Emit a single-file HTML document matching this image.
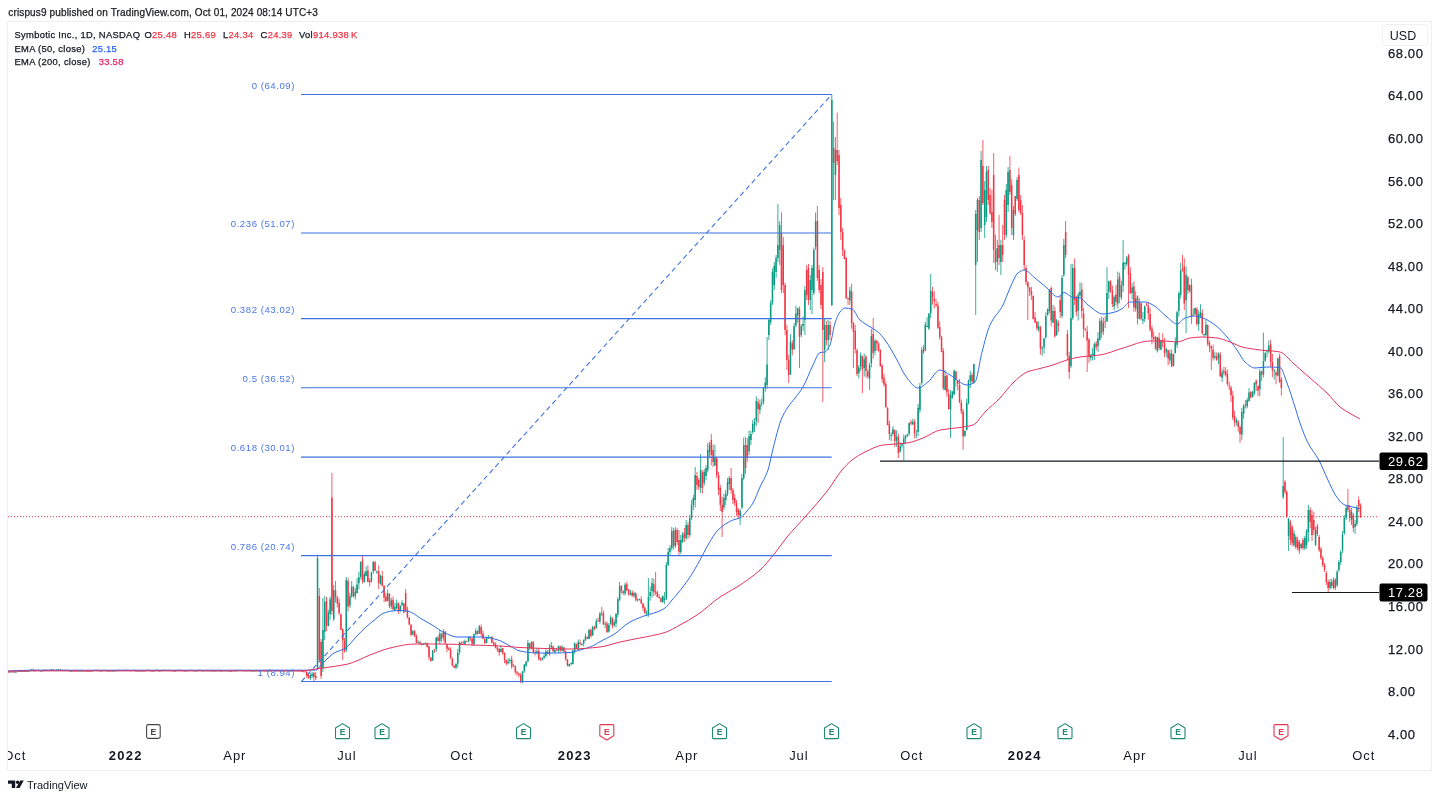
<!DOCTYPE html>
<html><head><meta charset="utf-8"><title>SYM chart</title>
<style>
html,body{margin:0;padding:0;background:#ffffff;}
body{width:1440px;height:799px;overflow:hidden;position:relative;font-family:"Liberation Sans",Arial,Helvetica,sans-serif;color:#131722;}
svg{position:absolute;left:0;top:0;filter:blur(0.35px);}
svg text{font-family:"Liberation Sans",Arial,Helvetica,sans-serif;paint-order:stroke;}
.tk text,text.tk{stroke:#131722;stroke-width:0.25px;}
.pub{position:absolute;left:8px;top:5px;font-size:11px;color:#1c1c1c;white-space:nowrap;}
</style></head><body>
<svg width="1440" height="799" viewBox="0 0 1440 799">
<!-- frame -->
<rect x="7.5" y="21.5" width="1424" height="749" fill="none" stroke="#eeeff1" stroke-width="1"/>
<!-- header -->
<text class="tk" x="8.3" y="16" font-size="10" letter-spacing="0.14" fill="#202020">crispus9 published on TradingView.com, Oct 01, 2024 08:14 UTC+3</text>
<!-- legend -->
<g class="tk" font-size="9.4" letter-spacing="0.3" fill="#131722">
<text x="14.5" y="37.8">Symbotic Inc., 1D, NASDAQ</text>
<text x="144.5" y="37.6">O<tspan fill="#f23645" stroke="#f23645">25.48</tspan></text>
<text x="184" y="37.6">H<tspan fill="#f23645" stroke="#f23645">25.69</tspan></text>
<text x="223" y="37.6">L<tspan fill="#f23645" stroke="#f23645">24.34</tspan></text>
<text x="260.6" y="37.6">C<tspan fill="#f23645" stroke="#f23645">24.39</tspan></text>
<text x="299" y="37.6">Vol<tspan fill="#f23645" stroke="#f23645">914.938</tspan><tspan fill="#f23645" stroke="#f23645" dx="2">K</tspan></text>
<text x="14.5" y="51.6">EMA (50, close)<tspan fill="#2962ff" stroke="#2962ff" dx="7">25.15</tspan></text>
<text x="14.5" y="65.4">EMA (200, close)<tspan fill="#e91e63" stroke="#e91e63" dx="8">33.58</tspan></text>
</g>
<!-- current price dotted line -->
<line x1="8" y1="516.7" x2="1378" y2="516.7" stroke="#f23645" stroke-width="1" stroke-dasharray="1 2"/>
<path d="M10 671.3V672.5M13.6 671.1V672.4M17.2 671V672.4M19 670.8V671.9M22.6 670.7V672M26.2 670.4V672M28 670.5V671.4M29.8 669.9V671.5M31.6 669.1V670.6M35.2 669.8V671.1M37 669.7V670.6M40.6 670.2V671.2M42.4 670.1V670.9M44.2 669.3V670.9M47.8 669.6V670.8M51.4 669.2V670.2M55 669.8V670.7M56.8 669.2V670.7M58.6 669.2V670.2M62.2 669.6V670.7M65.8 669.7V671M71.2 670.4V671.4M73 670.3V671.2M78.4 670.3V671.2M80.2 670V671M83.8 670.2V671.3M92.7 670V671.2M94.5 669.8V670.7M99.9 670.1V671.1M103.5 669.8V671.1M108.9 670.1V671.1M112.5 670.4V671.1M114.3 670.2V671.2M116.1 670V671M117.9 669.9V670.8M121.5 669.9V671M123.3 669.8V670.6M125.1 669.8V670.5M132.3 669.7V670.9M137.7 670.3V671M143.1 670.1V671.1M146.7 669.7V671M153.9 670.4V671.2M155.7 669.7V671M161.1 669.8V670.9M162.9 669.6V670.8M166.5 669.8V670.5M170.1 669.9V671M177.3 669.8V671.2M179.1 669.7V670.5M184.5 670.2V671M188 670V671M189.8 669.8V670.8M195.2 670.3V671.1M197 670.2V671.1M198.8 669.7V670.9M202.4 670V670.9M204.2 670V670.8M207.8 669.8V670.9M213.2 670.1V671M215 670.1V670.9M218.6 670.1V671.1M222.2 670.3V671.1M224 670V671.1M229.4 670.4V671.1M233 670V671.2M236.6 669.9V671.1M238.4 669.7V670.7M240.2 669.9V670.6M245.6 670V670.8M249.2 669.8V670.8M252.8 670.4V671.2M254.6 670.2V671.1M256.4 670V670.8M260 670.2V671.1M261.8 670.1V671M267.2 670.2V671.2M270.8 669.7V671.4M276.2 669.8V671.3M279.8 670V671.1M283.4 670.5V671.3M285.2 670V671.2M290.6 670.2V671.1M292.3 669.9V671M295.9 670V670.9M299.5 669.8V670.9M310.3 673V680M312.1 672V678M317.5 555.5V670M322.9 598V672M324.7 596V640M328.3 609.7V626.4M330.1 596.6V619.6M333.7 585V621M346.3 577V652M349.9 592.9V608M351.7 581.1V597.4M355.3 587.5V599.5M357.1 578.1V593.6M358.9 571.9V589.3M360.7 561.2V579M364.3 571.6V582.7M366.1 566.4V576.5M371.5 571.8V582.5M373.3 561.2V573.8M376.9 570.4V573.8M380.5 574.5V584.6M387.7 589.5V601.2M391.3 597.7V608.9M394.9 602.8V611M396.6 599.5V609.2M400.2 604.7V612.4M402 600.2V606.8M412.8 629.9V635.3M418.2 640.2V643.1M421.8 643.1V645M423.6 643.2V644.8M425.4 642.3V643.5M432.6 650.1V660.9M436.2 637.1V652.3M439.8 629.5V644.4M443.4 629.1V640.8M456 663.5V669.2M457.8 648.8V667.6M459.6 641.5V654.9M465 639.6V644.4M468.6 636.1V642.5M474 633.5V646.1M475.8 628.4V634.6M479.4 624.9V634M486.6 637.1V643.3M488.4 635.1V638.6M490.2 636.7V637.8M500.9 645.3V652.4M508.1 657.9V664.6M509.9 658.1V663.5M513.5 663.8V666.8M522.5 671.1V683.3M524.3 664V672.9M526.1 660.9V667.2M527.9 640V662M531.5 641.4V649.2M536.9 648.3V654.2M542.3 657.4V660.6M544.1 653.6V658.5M545.9 649.2V657.4M549.5 644.1V655.7M551.3 642V649.2M554.9 648.1V653M558.5 645.5V652.8M562.1 645.1V651.4M569.3 663.7V666.9M571.1 662.2V665.5M572.9 650V664.5M574.7 642.5V653.9M578.3 639.6V650M581.9 643.1V644.8M583.7 639.3V646.5M585.5 633.7V641.1M589.1 629.3V639.3M592.7 625.6V635.7M596.3 618.5V628.6M599.9 611.9V623.8M605.2 621.6V628.2M608.8 623.1V632.6M610.6 615.4V624.9M614.2 620.1V627M616 613.3V627.5M617.8 597.3V617.5M619.6 582V601.1M625 582.9V595.5M630.4 589.9V595.4M634 591.5V597.9M637.6 598.3V601.4M639.4 598.6V600.6M646.6 610.3V616.4M648.4 578V616.8M650.2 586.6V600.7M652 578.1V597.6M662.8 595.4V602.5M664.6 592V604M666.4 562V600M668.2 548V566M670 545V556M671.8 527V550M675.4 527V548M680.8 535V554M682.6 532V543M686.2 520V540M689.8 515V537M691.6 500V520M693.4 495V510M695.2 467V507.6M700.6 454V493M704.2 469V486M706 465V480M707.7 443V472.5M709.5 441.9V458M714.9 444.5V466M723.9 493.6V510M725.7 490V505M727.5 478V496M729.3 476V490M740.1 509V525M741.9 474V509M743.7 437.5V480M749.1 430.5V455M750.9 431V445M752.7 420V434M754.5 418V432M756.3 396.3V425.8M759.9 399.7V414.3M761.7 398.4V406.7M763.5 387.3V404.6M765.3 377.2V391.7M767.1 337V388.7M768.9 318V340M770.7 300V325M772.5 268.5V305M774.3 262V290M776.1 255V278M777.9 204V262M779.7 221V265M790.5 334.4V375M794.1 323.2V350M795.9 305.7V327.1M797.7 307.6V322.8M801.3 324.1V337.2M803.1 316.3V331M804.9 286V335M810.3 275V310M812 265V314M813.8 247.5V295M815.6 212.5V250M824.6 318V362M828.2 320V350M831.8 94.5V306M835.4 137V200M849.8 286.9V304.8M858.8 365V378.4M860.6 352.5V370.9M864.2 353.5V376.5M869.6 362.7V390M871.4 329V367.4M875 338.8V355.1M891.2 432.4V441.1M893 426.1V435.7M896.6 430.3V446.8M900.2 441.9V452.5M902 442.9V448.4M903.8 434.3V460.5M905.6 435V443.6M907.4 433.7V436.9M909.2 422.5V435.8M912.8 418.7V425.1M916.3 429.7V438.7M918.1 404V436M919.9 383V413M921.7 347V385M925.3 321.9V350.8M927.1 317.3V327.1M928.9 313.1V330M930.7 274V318.4M945.1 370.1V390.6M950.5 390.2V438M952.3 391.1V399.2M954.1 369.4V394.8M964.9 430.2V437.1M966.7 398.7V430.5M968.5 379.5V404.3M970.3 371V388M973.9 363.7V383.6M975.7 210V315M977.5 198V262M981.1 151V232M984.7 181V238M986.5 166V222M997.3 240V272M1000.9 240V275M1006.3 184V238M1008.1 167V212M1013.5 206V240M1017.1 177V201M1038.6 321.6V331.7M1042.2 346V356M1044 337.9V353.6M1045.8 312.4V338.8M1047.6 308.4V315.6M1049.4 289.1V313.3M1053 304.8V323.2M1056.6 318.9V335.8M1062 275V318M1063.8 239V277M1071 264V368M1072.8 264V320M1078.2 292.5V320.5M1080 282.3V297.3M1090.8 353.9V360.7M1092.6 348.2V360.4M1094.4 342.4V359.9M1098 332.2V352M1099.8 318.2V340.6M1103.4 317.6V335.1M1107 267V321.7M1108.8 280.6V299.1M1114.2 295.4V310.5M1117.8 271.6V308.6M1121.4 280.7V299.9M1123.1 240V291.9M1124.9 262.2V269.7M1126.7 255.9V266.4M1132.1 283.3V299.7M1135.7 291.3V311.8M1139.3 298.2V319.5M1142.9 312V324.1M1144.7 305.5V322M1157.3 336.8V352.5M1160.9 339.7V350.1M1166.3 347.9V356.9M1169.9 349.5V364M1173.5 353.6V366.4M1175.3 337.3V353.6M1177.1 310.6V347.9M1178.9 291.3V316.5M1180.7 262.9V298.5M1186.1 266.5V333M1189.7 284.4V292.5M1193.3 308.4V315.6M1195.1 307.4V314.8M1198.7 310.6V331M1200.5 304.2V317.9M1204.1 333.5V337.3M1205.9 319.9V335.7M1214.9 352.2V359.3M1218.5 352.5V364.1M1222.1 369.3V382M1236.4 417.8V425.5M1241.8 407.8V439.9M1243.6 404.2V418.8M1247.2 397.7V408.3M1249 388V401.7M1252.6 390.9V397.4M1254.4 382.4V395M1259.8 368.8V396.3M1263.4 332.5V377.5M1265.2 351.7V361.9M1267 349.5V357.5M1268.8 340.5V353.6M1274.2 368.7V379.5M1277.8 358V376.4M1283.2 437V499M1288.6 518V551M1294 530V547M1301.2 543V549M1304.8 536V550M1306.6 529V549M1308.4 505V542M1315.6 527V546M1330 579V590M1333.5 577.6V589M1337.1 570V587M1338.9 560V572M1340.7 550V565M1342.5 531V553M1344.3 515V535M1346.1 505.5V520M1351.5 508V525M1355.1 520V534M1356.9 505V526" stroke="#089981" stroke-width="0.8" fill="none"/>
<path d="M8.2 671.4V672.2M11.8 671.2V672.3M15.4 671.1V672.7M20.8 670.8V672M24.4 670.5V671.7M33.4 668.8V671.2M38.8 669.5V671M46 669.3V670.7M49.6 669.5V670.4M53.2 669.1V670.7M60.4 669.1V670.8M64 669.7V671M67.6 669.7V670.8M69.4 670V671.4M74.8 670.3V671.2M76.6 670.3V671.4M82 670.1V671.3M85.5 670.2V671.1M87.3 670.3V671.1M89.1 670.4V671.2M90.9 670.5V671.1M96.3 669.7V670.5M98.1 669.8V671M101.7 670.1V671.1M105.3 669.9V671.2M107.1 670.3V671.2M110.7 670.3V671.1M119.7 669.8V671.1M126.9 669.6V670.5M128.7 669.8V670.6M130.5 670V670.8M134.1 669.8V670.9M135.9 670.2V671M139.5 670.2V671.1M141.3 670.2V671.1M144.9 670.2V670.9M148.5 669.8V670.9M150.3 670.1V671.1M152.1 670.3V671.2M157.5 669.6V670.9M159.3 670.2V670.9M164.7 669.8V670.5M168.3 669.8V671.1M171.9 669.9V671M173.7 670.2V671M175.5 670.4V671.3M180.9 669.6V670.7M182.7 669.9V671.1M186.3 670V671M191.6 669.8V670.7M193.4 669.9V671.2M200.6 669.7V670.9M206 670.1V671M209.6 669.9V670.9M211.4 670.1V671.1M216.8 670V671.2M220.4 670.1V671.2M225.8 670V670.8M227.6 670.1V671.1M231.2 670.4V671.1M234.8 670.1V671.1M242 669.9V670.8M243.8 670.1V671M247.4 670V670.8M251 669.9V671.3M258.2 669.9V671.2M263.6 669.9V670.8M265.4 670.1V671.2M269 670.4V671.2M272.6 669.8V671M274.4 670.3V671.3M278 669.9V671.1M281.6 669.8V671.3M287 669.9V670.7M288.8 669.9V671M294.1 669.9V670.9M297.7 670.1V670.9M301.3 669.8V672M303.1 670.9V671.9M304.9 671.1V672.2M306.7 671V678M308.5 673V679M313.9 672V681M315.7 672V680M319.3 588V662M321.1 639V679M326.5 597V631.2M331.9 473V615M335.5 581V602.6M337.3 595.8V607.5M339.1 598.6V615.1M340.9 613.3V630.2M342.7 628.5V660M344.5 637.9V652.6M348.1 577.8V611.5M353.5 585.5V597.4M362.5 555V583.5M367.9 565.3V582.1M369.7 578V586.6M375.1 560.8V571.1M378.7 565.4V589.1M382.3 570.8V586.5M384.1 585.3V602.2M385.9 593V601.7M389.5 593.4V608.3M393.1 596.5V610.5M398.4 602V613.9M403.8 602.7V613.3M405.6 589V612M407.4 606.6V618.5M409.2 617V624.8M411 624.1V636.4M414.6 630.1V636.9M416.4 634.2V643.3M420 640.7V644.6M427.2 642.6V647.5M429 645.7V659.8M430.8 657.1V661.7M434.4 649.1V652.9M438 635.3V641.4M441.6 633.2V642.2M445.2 631V643.8M447 643.8V652.2M448.8 646.9V650.3M450.6 647.3V659.2M452.4 657.6V666.4M454.2 665.3V668M461.4 641.5V643.6M463.2 640.6V643.8M466.8 640.8V641.9M470.4 636.8V641.3M472.2 637.7V646.1M477.6 630.1V634.8M481.2 624.4V636.3M483 630.7V639.2M484.8 637.7V644.1M492 636V643.3M493.8 641.5V645.6M495.6 642.3V648.5M497.4 646.4V652.1M499.2 648.4V655.9M502.7 647.9V654.9M504.5 652.4V663.2M506.3 659.6V665.4M511.7 655.8V668.9M515.3 665.2V674.4M517.1 671V675.8M518.9 672.6V677.4M520.7 672.8V683.2M529.7 642.6V650.3M533.3 641.2V653.4M535.1 649.9V655.5M538.7 648.2V660.5M540.5 657.1V660.6M547.7 650.1V654.6M553.1 645.5V652.4M556.7 647.7V651.1M560.3 645.8V651.9M563.9 646.6V652.1M565.7 650.4V660.8M567.5 659.1V666.4M576.5 643.4V649.2M580.1 639.5V645.9M587.3 636.2V639.2M590.9 628.3V637.8M594.5 625.5V630.2M598.1 617.7V621.9M601.7 607V616M603.4 610.4V624.9M607 621.3V633.2M612.4 617.1V628.6M621.4 585.4V593.5M623.2 590.3V595.2M626.8 581.7V591.3M628.6 589.2V595.8M632.2 590.3V596.9M635.8 592.4V601.7M641.2 596.3V604.2M643 603V610.9M644.8 606.4V613.6M653.8 578.5V596.1M655.6 572V595.1M657.4 590.7V597.3M659.2 594.1V598.6M661 597V602.3M673.6 528V549.6M677.2 528V545M679 530V555M684.4 528V542M688 522V539M697 472V490M698.8 478V490M702.4 470V493.6M711.3 434V465.5M713.1 444.5V467M716.7 457V478M718.5 472V495M720.3 485V511M722.1 497V537M731.1 468V493.6M732.9 488V504M734.7 494V506M736.5 500V516M738.3 508V518M745.5 437V474M747.3 438V462M758.1 398.6V423M781.5 212.5V293M783.3 237V293M785.1 282.6V335M786.9 325V370M788.7 355V383M792.3 340.3V355.4M799.5 306.5V368M806.7 265V300M808.5 264V305M817.4 206V281M819.2 265V293M821 279V309M822.8 267V402M826.4 321V345M830 321V340M833.6 121.6V200M837.2 112.7V165M839 150V215M840.8 198V240M842.6 228V256M844.4 249.5V259.4M846.2 257.1V298.8M848 297.6V305.2M851.6 283.6V328.7M853.4 321.9V368M855.2 324.7V353.6M857 348.6V375.9M862.4 355.8V393M866 355V377.7M867.8 369.3V378.7M873.2 318V358.6M876.8 340V350.5M878.6 341.9V351.5M880.4 349.3V366.9M882.2 364.4V382.7M884 373.8V386.8M885.8 381.6V407.9M887.6 406.8V425.3M889.4 420.7V440M894.8 429.6V447M898.4 433.7V458M911 419.9V425.4M914.6 419.2V438.2M923.5 345V353.6M932.5 286.8V304.6M934.3 291.1V308.5M936.1 299.3V307M937.9 301.9V329M939.7 321.6V339.6M941.5 335.9V352.3M943.3 348.2V390.1M946.9 374.6V396.6M948.7 389.1V409.5M955.9 370.7V386.7M957.7 380.1V390.4M959.5 378.9V403.3M961.3 399.6V414.1M963.1 409V450M972.1 372.6V383.4M979.3 196V240M982.9 140V205M988.3 166V205M990.1 188V215M991.9 190V228M993.7 153V263M995.5 235V270M999.1 215V265M1002.7 225V262M1004.5 195V240M1009.9 156V195M1011.7 179V235M1015.3 196V216M1018.9 167.5V212.5M1020.6 195V215M1022.4 205V240M1024.2 236V270M1026 265V285M1027.8 281.2V320M1029.6 287V296.1M1031.4 286.8V299.9M1033.2 295.2V319.3M1035 311.8V322.9M1036.8 321.1V330.6M1040.4 325.6V354.7M1051.2 286.4V326.2M1054.8 306.5V337.8M1058.4 320.4V332.2M1060.2 296V318M1065.6 221V258M1067.4 330V360M1069.2 352V379M1074.6 258.5V305M1076.4 296V316M1081.8 282.9V318.4M1083.6 307.8V337.7M1085.4 328.1V330.8M1087.2 325.8V372M1089 338V362.9M1096.2 341V350.5M1101.6 316.7V337.8M1105.2 316.1V328M1110.6 279.9V293M1112.4 285.5V307.2M1116 284.8V305.6M1119.6 272.7V303.4M1128.5 253.9V308M1130.3 267.3V294.1M1133.9 281.3V311.7M1137.5 295.4V324.4M1141.1 302.4V320.2M1146.5 303V305.6M1148.3 302.3V319.8M1150.1 308.2V331.7M1151.9 325.6V344.4M1153.7 331.7V340.7M1155.5 335.8V349.8M1159.1 332.6V350.2M1162.7 333.2V347.4M1164.5 337.9V357.3M1168.1 349.9V365.4M1171.7 349.4V367.1M1182.5 255V271.7M1184.3 258.4V309.9M1187.9 275.9V294M1191.5 278.8V323.9M1196.9 307.1V326M1202.3 309.3V334.7M1207.7 324.5V346.2M1209.5 340.6V352.1M1211.3 345.6V370M1213.1 344.6V360.7M1216.7 352.4V360.9M1220.3 351.9V376.8M1223.9 366.8V375.6M1225.7 367.2V376.7M1227.4 369.6V385.9M1229.2 381.7V390.3M1231 385.7V402M1232.8 391V420.1M1234.6 410.7V426.8M1238.2 420.2V431.6M1240 425.7V443M1245.4 400V408.5M1250.8 391.2V398.4M1256.2 379.4V390.9M1258 385.3V396.1M1261.6 370.7V381.1M1270.6 339.9V366.7M1272.4 354V377.1M1276 370.7V384.3M1279.6 353.8V382.8M1281.4 377.4V395.6M1285 480V494M1286.8 490V518M1290.4 520V545M1292.2 525V546M1295.8 535V549M1297.6 537V550M1299.4 540V554M1303 538V550M1310.2 507V528M1312 510V541M1313.8 512V535M1317.4 524V536M1319.2 535V552M1321 547V560M1322.8 556V567M1324.6 563V572M1326.4 571V585M1328.2 580V592.6M1331.7 579V588M1335.3 578V590M1347.9 489V512M1349.7 505V522M1353.3 513V532M1358.7 496.5V512M1360.5 503.4V517.8" stroke="#f23645" stroke-width="0.8" fill="none"/>
<path d="M9.3 671.6h1.5v0.9h-1.5zM12.9 671.5h1.5v0.9h-1.5zM16.5 671.4h1.5v0.9h-1.5zM18.3 671.2h1.5v0.9h-1.5zM21.9 671.1h1.5v0.9h-1.5zM25.5 670.9h1.5v0.9h-1.5zM27.3 670.8h1.5v0.9h-1.5zM29.1 670.3h1.5v0.9h-1.5zM30.9 669.5h1.5v0.9h-1.5zM34.4 670.3h1.5v0.9h-1.5zM36.2 670.1h1.5v0.9h-1.5zM39.8 670.5h1.5v0.9h-1.5zM41.6 670.5h1.5v0.9h-1.5zM43.4 669.7h1.5v0.9h-1.5zM47 669.9h1.5v0.9h-1.5zM50.6 669.5h1.5v0.9h-1.5zM54.2 670.2h1.5v0.9h-1.5zM56 669.7h1.5v0.9h-1.5zM57.8 669.5h1.5v0.9h-1.5zM61.4 670.1h1.5v0.9h-1.5zM65 670.2h1.5v0.9h-1.5zM70.4 670.8h1.5v0.9h-1.5zM72.2 670.6h1.5v0.9h-1.5zM77.6 670.6h1.5v0.9h-1.5zM79.4 670.5h1.5v0.9h-1.5zM83 670.5h1.5v0.9h-1.5zM92 670.3h1.5v0.9h-1.5zM93.8 670.2h1.5v0.9h-1.5zM99.2 670.5h1.5v0.9h-1.5zM102.8 670.2h1.5v0.9h-1.5zM108.2 670.6h1.5v0.9h-1.5zM111.8 670.7h1.5v0.9h-1.5zM113.6 670.6h1.5v0.9h-1.5zM115.4 670.4h1.5v0.9h-1.5zM117.2 670.2h1.5v0.9h-1.5zM120.8 670.2h1.5v0.9h-1.5zM122.6 670.2h1.5v0.9h-1.5zM124.4 670.1h1.5v0.9h-1.5zM131.6 670.1h1.5v0.9h-1.5zM136.9 670.6h1.5v0.9h-1.5zM142.3 670.5h1.5v0.9h-1.5zM145.9 670.1h1.5v0.9h-1.5zM153.1 670.7h1.5v0.9h-1.5zM154.9 670.1h1.5v0.9h-1.5zM160.3 670.3h1.5v0.9h-1.5zM162.1 670.1h1.5v0.9h-1.5zM165.7 670.1h1.5v0.9h-1.5zM169.3 670.2h1.5v0.9h-1.5zM176.5 670.2h1.5v0.9h-1.5zM178.3 670.1h1.5v0.9h-1.5zM183.7 670.6h1.5v0.9h-1.5zM187.3 670.3h1.5v0.9h-1.5zM189.1 670.1h1.5v0.9h-1.5zM194.5 670.7h1.5v0.9h-1.5zM196.3 670.5h1.5v0.9h-1.5zM198.1 670.1h1.5v0.9h-1.5zM201.7 670.5h1.5v0.9h-1.5zM203.5 670.4h1.5v0.9h-1.5zM207.1 670.3h1.5v0.9h-1.5zM212.5 670.5h1.5v0.9h-1.5zM214.3 670.5h1.5v0.9h-1.5zM217.9 670.4h1.5v0.9h-1.5zM221.5 670.6h1.5v0.9h-1.5zM223.3 670.3h1.5v0.9h-1.5zM228.7 670.8h1.5v0.9h-1.5zM232.3 670.4h1.5v0.9h-1.5zM235.9 670.3h1.5v0.9h-1.5zM237.7 670.2h1.5v0.9h-1.5zM239.4 670.2h1.5v0.9h-1.5zM244.8 670.4h1.5v0.9h-1.5zM248.4 670.3h1.5v0.9h-1.5zM252 670.7h1.5v0.9h-1.5zM253.8 670.5h1.5v0.9h-1.5zM255.6 670.3h1.5v0.9h-1.5zM259.2 670.5h1.5v0.9h-1.5zM261 670.4h1.5v0.9h-1.5zM266.4 670.7h1.5v0.9h-1.5zM270 670.2h1.5v0.9h-1.5zM275.4 670.2h1.5v0.9h-1.5zM279 670.3h1.5v0.9h-1.5zM282.6 670.8h1.5v0.9h-1.5zM284.4 670.4h1.5v0.9h-1.5zM289.8 670.6h1.5v0.9h-1.5zM291.6 670.3h1.5v0.9h-1.5zM295.2 670.4h1.5v0.9h-1.5zM298.8 670.3h1.5v0.9h-1.5zM309.6 675h1.5v3h-1.5zM311.4 674h1.5v2h-1.5zM316.8 558h1.5v110h-1.5zM322.2 630h1.5v38h-1.5zM324 602h1.5v30h-1.5zM327.6 612.4h1.5v13.6h-1.5zM329.4 599.3h1.5v14.8h-1.5zM333 590h1.5v29h-1.5zM345.5 580h1.5v70h-1.5zM349.1 596.3h1.5v9.1h-1.5zM350.9 586.6h1.5v10.2h-1.5zM354.5 591.8h1.5v4.5h-1.5zM356.3 584.6h1.5v8.5h-1.5zM358.1 577.3h1.5v6h-1.5zM359.9 562h1.5v14.7h-1.5zM363.5 573.9h1.5v8.2h-1.5zM365.3 571.3h1.5v4.6h-1.5zM370.7 572.5h1.5v8.7h-1.5zM372.5 561.8h1.5v9.5h-1.5zM376.1 571.6h1.5v0.9h-1.5zM379.7 575.6h1.5v8.3h-1.5zM386.9 593.5h1.5v7.4h-1.5zM390.5 600.5h1.5v5.9h-1.5zM394.1 607h1.5v3.1h-1.5zM395.9 603.4h1.5v4.7h-1.5zM399.5 605.9h1.5v5.1h-1.5zM401.3 602.8h1.5v2.2h-1.5zM412.1 631.2h1.5v3.5h-1.5zM417.5 642h1.5v0.9h-1.5zM421.1 644.3h1.5v0.9h-1.5zM422.9 643.5h1.5v0.9h-1.5zM424.7 643h1.5v0.9h-1.5zM431.9 650.4h1.5v10.1h-1.5zM435.5 637.5h1.5v11.7h-1.5zM439.1 633.5h1.5v7.6h-1.5zM442.7 631.7h1.5v5.9h-1.5zM455.2 663.8h1.5v4h-1.5zM457 652.7h1.5v10.9h-1.5zM458.8 642.6h1.5v9.4h-1.5zM464.2 640.9h1.5v3.1h-1.5zM467.8 637h1.5v4.3h-1.5zM473.2 634.2h1.5v10.1h-1.5zM475 631h1.5v3.4h-1.5zM478.6 626.4h1.5v7.2h-1.5zM485.8 637.8h1.5v5.1h-1.5zM487.6 637.6h1.5v0.9h-1.5zM489.4 637.1h1.5v0.9h-1.5zM500.2 649h1.5v3.1h-1.5zM507.4 661.4h1.5v1.9h-1.5zM509.2 660.1h1.5v0.9h-1.5zM512.8 666.2h1.5v0.9h-1.5zM521.8 671.4h1.5v10.7h-1.5zM523.6 664.8h1.5v6.4h-1.5zM525.4 661.8h1.5v3.8h-1.5zM527.2 643.1h1.5v18.5h-1.5zM530.8 641.7h1.5v7h-1.5zM536.2 651.3h1.5v1.7h-1.5zM541.6 658h1.5v1.8h-1.5zM543.4 656.2h1.5v2h-1.5zM545.2 651.5h1.5v4.4h-1.5zM548.8 647.4h1.5v6.3h-1.5zM550.6 645.5h1.5v1.7h-1.5zM554.1 649.9h1.5v2h-1.5zM557.7 646.1h1.5v4.7h-1.5zM561.3 647.1h1.5v3.7h-1.5zM568.5 664h1.5v2h-1.5zM570.3 662.9h1.5v0.9h-1.5zM572.1 650.4h1.5v13.5h-1.5zM573.9 643.3h1.5v7.5h-1.5zM577.5 641.9h1.5v7.8h-1.5zM581.1 644h1.5v0.9h-1.5zM582.9 640.3h1.5v3.1h-1.5zM584.7 636.4h1.5v3.9h-1.5zM588.3 629.8h1.5v9.2h-1.5zM591.9 626.9h1.5v8.5h-1.5zM595.5 621.3h1.5v6.9h-1.5zM599.1 613.6h1.5v7.9h-1.5zM604.5 623.6h1.5v0.9h-1.5zM608.1 624.9h1.5v6.7h-1.5zM609.9 617.4h1.5v6.3h-1.5zM613.5 622.3h1.5v3h-1.5zM615.3 613.9h1.5v9.6h-1.5zM617.1 599.3h1.5v15.1h-1.5zM618.9 586.3h1.5v13.4h-1.5zM624.3 584.8h1.5v8.7h-1.5zM629.7 593.1h1.5v1.9h-1.5zM633.3 593.1h1.5v2.6h-1.5zM636.9 599.5h1.5v0.9h-1.5zM638.7 599.2h1.5v0.9h-1.5zM645.9 612.7h1.5v0.9h-1.5zM647.7 596.9h1.5v16.8h-1.5zM649.5 591.9h1.5v4.2h-1.5zM651.3 583h1.5v8.1h-1.5zM662 596h1.5v6.2h-1.5zM663.8 598h1.5v2h-1.5zM665.6 565h1.5v33h-1.5zM667.4 552h1.5v13h-1.5zM669.2 548h1.5v4h-1.5zM671 531h1.5v17h-1.5zM674.6 530h1.5v16h-1.5zM680 540h1.5v12h-1.5zM681.8 535h1.5v7h-1.5zM685.4 525h1.5v13h-1.5zM689 518h1.5v17h-1.5zM690.8 505h1.5v13h-1.5zM692.6 498h1.5v7h-1.5zM694.4 475h1.5v25h-1.5zM699.8 470h1.5v18h-1.5zM703.4 472h1.5v11h-1.5zM705.2 468h1.5v8h-1.5zM707 450h1.5v20h-1.5zM708.8 445h1.5v7h-1.5zM714.2 457h1.5v8.5h-1.5zM723.2 498h1.5v9.6h-1.5zM725 494h1.5v6h-1.5zM726.8 482h1.5v12h-1.5zM728.6 478h1.5v6h-1.5zM739.4 511h1.5v5h-1.5zM741.2 478h1.5v29.6h-1.5zM743 445h1.5v33h-1.5zM748.4 436h1.5v15.5h-1.5zM750.2 434h1.5v6h-1.5zM752 424h1.5v8h-1.5zM753.8 422h1.5v3h-1.5zM755.6 400.9h1.5v20.1h-1.5zM759.1 404.6h1.5v5.3h-1.5zM760.9 402.7h1.5v1h-1.5zM762.7 388h1.5v14h-1.5zM764.5 382.5h1.5v5.2h-1.5zM766.3 364.5h1.5v20.6h-1.5zM768.1 320h1.5v15h-1.5zM769.9 303h1.5v19h-1.5zM771.7 272h1.5v31h-1.5zM773.5 266h1.5v19h-1.5zM775.3 258h1.5v14h-1.5zM777.1 245h1.5v13h-1.5zM778.9 225h1.5v25h-1.5zM789.7 341.6h1.5v32.9h-1.5zM793.3 326.2h1.5v22.9h-1.5zM795.1 313.4h1.5v12h-1.5zM796.9 308.2h1.5v7.1h-1.5zM800.5 325.9h1.5v9h-1.5zM802.3 324h1.5v2.1h-1.5zM804.1 290h1.5v30h-1.5zM809.5 280h1.5v20h-1.5zM811.3 268h1.5v22h-1.5zM813.1 250h1.5v43h-1.5zM814.9 221h1.5v26h-1.5zM823.9 325h1.5v25h-1.5zM827.5 325h1.5v15h-1.5zM831.1 100h1.5v205h-1.5zM834.7 150h1.5v25h-1.5zM849.1 290.6h1.5v9.9h-1.5zM858.1 367.4h1.5v5.6h-1.5zM859.9 355.3h1.5v11.1h-1.5zM863.4 359.3h1.5v8.7h-1.5zM868.8 364.8h1.5v13.6h-1.5zM870.6 335.9h1.5v27.2h-1.5zM874.2 341h1.5v9.9h-1.5zM890.4 435h1.5v0.9h-1.5zM892.2 428.9h1.5v5.1h-1.5zM895.8 436.3h1.5v4.5h-1.5zM899.4 446h1.5v5.5h-1.5zM901.2 444h1.5v1.4h-1.5zM903 438.4h1.5v4.9h-1.5zM904.8 435.9h1.5v2.7h-1.5zM906.6 434.4h1.5v1.5h-1.5zM908.4 422.9h1.5v10.8h-1.5zM912 421.7h1.5v2.5h-1.5zM915.6 434.7h1.5v0.9h-1.5zM917.4 408h1.5v24h-1.5zM919.2 386h1.5v24h-1.5zM921 350h1.5v33h-1.5zM924.6 324.4h1.5v26.1h-1.5zM926.4 326.1h1.5v0.9h-1.5zM928.2 313.4h1.5v15.2h-1.5zM930 290.8h1.5v22.4h-1.5zM944.4 375.9h1.5v14h-1.5zM949.8 395.7h1.5v13.6h-1.5zM951.6 391.4h1.5v6.1h-1.5zM953.4 370.8h1.5v23.6h-1.5zM964.2 430.9h1.5v4.9h-1.5zM966 403.1h1.5v26.9h-1.5zM967.7 380.9h1.5v22.3h-1.5zM969.5 375.3h1.5v5.6h-1.5zM973.1 364.1h1.5v18.7h-1.5zM974.9 214h1.5v51h-1.5zM976.7 200h1.5v30h-1.5zM980.3 160h1.5v68h-1.5zM983.9 190h1.5v35h-1.5zM985.7 172h1.5v45h-1.5zM996.5 248h1.5v14h-1.5zM1000.1 245h1.5v17h-1.5zM1005.5 190h1.5v45h-1.5zM1007.3 172h1.5v33h-1.5zM1012.7 210h1.5v25h-1.5zM1016.3 180h1.5v19h-1.5zM1037.9 325.9h1.5v3.9h-1.5zM1041.5 347.9h1.5v1.2h-1.5zM1043.3 338.4h1.5v8.8h-1.5zM1045.1 315.9h1.5v21.3h-1.5zM1046.9 309.3h1.5v6h-1.5zM1048.7 290h1.5v21.1h-1.5zM1052.3 310.9h1.5v11.6h-1.5zM1055.9 320.6h1.5v14.3h-1.5zM1061.3 278h1.5v38h-1.5zM1063.1 245h1.5v30h-1.5zM1070.2 318h1.5v48h-1.5zM1072 268h1.5v50h-1.5zM1077.4 294.9h1.5v15.8h-1.5zM1079.2 291.8h1.5v3.6h-1.5zM1090 355.6h1.5v2.4h-1.5zM1091.8 353.8h1.5v1.2h-1.5zM1093.6 344.3h1.5v11.1h-1.5zM1097.2 338.4h1.5v7.6h-1.5zM1099 320.9h1.5v19.1h-1.5zM1102.6 322.4h1.5v9h-1.5zM1106.2 293.1h1.5v28.3h-1.5zM1108 281.3h1.5v10.8h-1.5zM1113.4 297.1h1.5v9.5h-1.5zM1117 279.3h1.5v24.1h-1.5zM1120.6 285.3h1.5v12.1h-1.5zM1122.4 262.4h1.5v23.2h-1.5zM1124.2 262.6h1.5v1.7h-1.5zM1126 257.5h1.5v6.3h-1.5zM1131.4 287.5h1.5v5.6h-1.5zM1135 298.2h1.5v10.6h-1.5zM1138.6 301.9h1.5v16.8h-1.5zM1142.2 319.2h1.5v1.5h-1.5zM1144 306.4h1.5v12.6h-1.5zM1156.6 337.1h1.5v13.9h-1.5zM1160.2 340.4h1.5v9.4h-1.5zM1165.6 348.9h1.5v2.5h-1.5zM1169.2 353.2h1.5v7.4h-1.5zM1172.8 354.1h1.5v11.7h-1.5zM1174.5 342.6h1.5v10.4h-1.5zM1176.3 312.2h1.5v32.6h-1.5zM1178.1 293.6h1.5v17.4h-1.5zM1179.9 270.6h1.5v24.5h-1.5zM1185.3 274.7h1.5v25.5h-1.5zM1188.9 285h1.5v6.3h-1.5zM1192.5 314.5h1.5v0.9h-1.5zM1194.3 308h1.5v6.2h-1.5zM1197.9 314.2h1.5v9.7h-1.5zM1199.7 311.9h1.5v4.1h-1.5zM1203.3 334.1h1.5v0.9h-1.5zM1205.1 324.4h1.5v10.9h-1.5zM1214.1 356.3h1.5v1.5h-1.5zM1217.7 353.3h1.5v4.8h-1.5zM1221.3 372.3h1.5v5.5h-1.5zM1235.7 420.2h1.5v1.7h-1.5zM1241.1 412.1h1.5v22.5h-1.5zM1242.9 405.4h1.5v8.1h-1.5zM1246.5 400h1.5v6.3h-1.5zM1248.3 392.6h1.5v8.5h-1.5zM1251.9 391.8h1.5v5.2h-1.5zM1253.7 382.7h1.5v10h-1.5zM1259.1 371.6h1.5v17.7h-1.5zM1262.7 360.9h1.5v13.8h-1.5zM1264.5 353.3h1.5v7.5h-1.5zM1266.3 350.6h1.5v1h-1.5zM1268.1 345.4h1.5v6.1h-1.5zM1273.5 370.3h1.5v1h-1.5zM1277.1 358.6h1.5v16.8h-1.5zM1282.4 486h1.5v11h-1.5zM1287.8 519h1.5v17h-1.5zM1293.2 533h1.5v12h-1.5zM1300.4 544h1.5v4h-1.5zM1304 538h1.5v10h-1.5zM1305.8 531h1.5v14h-1.5zM1307.6 510h1.5v22h-1.5zM1314.8 530h1.5v15h-1.5zM1329.2 582h1.5v6h-1.5zM1332.8 580h1.5v8h-1.5zM1336.4 572h1.5v13h-1.5zM1338.2 562h1.5v8h-1.5zM1340 552h1.5v10h-1.5zM1341.8 535h1.5v15h-1.5zM1343.6 518h1.5v15h-1.5zM1345.4 508h1.5v10h-1.5zM1350.8 512h1.5v8h-1.5zM1354.4 524h1.5v3h-1.5zM1356.2 508h1.5v16h-1.5z" fill="#089981"/>
<path d="M7.5 671.9h1.5v0.9h-1.5zM11.1 671.6h1.5v0.9h-1.5zM14.7 671.5h1.5v0.9h-1.5zM20.1 671.2h1.5v0.9h-1.5zM23.7 671h1.5v0.9h-1.5zM32.6 669.5h1.5v1.2h-1.5zM38 670h1.5v0.9h-1.5zM45.2 669.7h1.5v0.9h-1.5zM48.8 669.9h1.5v0.9h-1.5zM52.4 669.5h1.5v0.9h-1.5zM59.6 669.4h1.5v0.9h-1.5zM63.2 670h1.5v0.9h-1.5zM66.8 670.2h1.5v0.9h-1.5zM68.6 670.4h1.5v0.9h-1.5zM74 670.6h1.5v0.9h-1.5zM75.8 670.7h1.5v0.9h-1.5zM81.2 670.5h1.5v0.9h-1.5zM84.8 670.5h1.5v0.9h-1.5zM86.6 670.8h1.5v0.9h-1.5zM88.4 670.8h1.5v0.9h-1.5zM90.2 670.8h1.5v0.9h-1.5zM95.6 670.1h1.5v0.9h-1.5zM97.4 670.2h1.5v0.9h-1.5zM101 670.5h1.5v0.9h-1.5zM104.6 670.2h1.5v0.9h-1.5zM106.4 670.7h1.5v0.9h-1.5zM110 670.6h1.5v0.9h-1.5zM119 670.2h1.5v0.9h-1.5zM126.2 670.1h1.5v0.9h-1.5zM128 670.2h1.5v0.9h-1.5zM129.8 670.4h1.5v0.9h-1.5zM133.4 670.1h1.5v0.9h-1.5zM135.1 670.5h1.5v0.9h-1.5zM138.7 670.6h1.5v0.9h-1.5zM140.5 670.7h1.5v0.9h-1.5zM144.1 670.5h1.5v0.9h-1.5zM147.7 670.1h1.5v0.9h-1.5zM149.5 670.4h1.5v0.9h-1.5zM151.3 670.7h1.5v0.9h-1.5zM156.7 670.1h1.5v0.9h-1.5zM158.5 670.5h1.5v0.9h-1.5zM163.9 670.1h1.5v0.9h-1.5zM167.5 670.1h1.5v0.9h-1.5zM171.1 670.3h1.5v0.9h-1.5zM172.9 670.5h1.5v0.9h-1.5zM174.7 670.7h1.5v0.9h-1.5zM180.1 670.1h1.5v0.9h-1.5zM181.9 670.3h1.5v0.9h-1.5zM185.5 670.5h1.5v0.9h-1.5zM190.9 670.2h1.5v0.9h-1.5zM192.7 670.3h1.5v0.9h-1.5zM199.9 670.1h1.5v0.9h-1.5zM205.3 670.4h1.5v0.9h-1.5zM208.9 670.3h1.5v0.9h-1.5zM210.7 670.5h1.5v0.9h-1.5zM216.1 670.4h1.5v0.9h-1.5zM219.7 670.5h1.5v0.9h-1.5zM225.1 670.3h1.5v0.9h-1.5zM226.9 670.4h1.5v0.9h-1.5zM230.5 670.8h1.5v0.9h-1.5zM234.1 670.4h1.5v0.9h-1.5zM241.2 670.2h1.5v0.9h-1.5zM243 670.4h1.5v0.9h-1.5zM246.6 670.4h1.5v0.9h-1.5zM250.2 670.3h1.5v0.9h-1.5zM257.4 670.2h1.5v0.9h-1.5zM262.8 670.4h1.5v0.9h-1.5zM264.6 670.5h1.5v0.9h-1.5zM268.2 670.7h1.5v0.9h-1.5zM271.8 670.2h1.5v0.9h-1.5zM273.6 670.7h1.5v0.9h-1.5zM277.2 670.3h1.5v0.9h-1.5zM280.8 670.3h1.5v0.9h-1.5zM286.2 670.4h1.5v0.9h-1.5zM288 670.3h1.5v0.9h-1.5zM293.4 670.3h1.5v0.9h-1.5zM297 670.5h1.5v0.9h-1.5zM300.6 670.2h1.5v1.2h-1.5zM302.4 671.3h1.5v0.9h-1.5zM304.2 671.4h1.5v0.9h-1.5zM306 672h1.5v4h-1.5zM307.8 675h1.5v3h-1.5zM313.2 673h1.5v4h-1.5zM315 676h1.5v2h-1.5zM318.6 596h1.5v64h-1.5zM320.4 642h1.5v34h-1.5zM325.8 601h1.5v24.7h-1.5zM331.2 497.5h1.5v113.5h-1.5zM334.8 590.4h1.5v6.9h-1.5zM336.6 597.3h1.5v6.1h-1.5zM338.4 602.7h1.5v10.4h-1.5zM340.2 614.5h1.5v15.3h-1.5zM342 628.9h1.5v11.3h-1.5zM343.7 640.4h1.5v11.1h-1.5zM347.3 581h1.5v25.6h-1.5zM352.7 587.6h1.5v8.6h-1.5zM361.7 560.4h1.5v20.7h-1.5zM367.1 570.5h1.5v11.4h-1.5zM368.9 580.4h1.5v2.1h-1.5zM374.3 562.2h1.5v8.6h-1.5zM377.9 571.2h1.5v11.8h-1.5zM381.5 575.9h1.5v9.9h-1.5zM383.3 585.8h1.5v11.9h-1.5zM385.1 596.8h1.5v4.5h-1.5zM388.7 593.7h1.5v12.5h-1.5zM392.3 599.7h1.5v9.5h-1.5zM397.7 603.2h1.5v8h-1.5zM403.1 603.4h1.5v9.1h-1.5zM404.9 593h1.5v17h-1.5zM406.7 609.5h1.5v7.7h-1.5zM408.5 617.6h1.5v6.8h-1.5zM410.3 624.8h1.5v10h-1.5zM413.9 631.3h1.5v5.2h-1.5zM415.7 636h1.5v6.8h-1.5zM419.3 642.4h1.5v1.9h-1.5zM426.5 643.5h1.5v3.5h-1.5zM428.3 646.3h1.5v10.9h-1.5zM430.1 657.5h1.5v3.5h-1.5zM433.7 649.6h1.5v0.9h-1.5zM437.3 637.6h1.5v3.4h-1.5zM440.9 633.5h1.5v5h-1.5zM444.5 631.6h1.5v11.9h-1.5zM446.3 644.6h1.5v4.2h-1.5zM448 648.4h1.5v1.6h-1.5zM449.8 649.4h1.5v8.3h-1.5zM451.6 658.4h1.5v7.3h-1.5zM453.4 665.7h1.5v2h-1.5zM460.6 643h1.5v0.9h-1.5zM462.4 642.3h1.5v1h-1.5zM466 641.2h1.5v0.9h-1.5zM469.6 637.3h1.5v1.5h-1.5zM471.4 638.8h1.5v5h-1.5zM476.8 631h1.5v3h-1.5zM480.4 627.1h1.5v6.7h-1.5zM482.2 633.4h1.5v5.3h-1.5zM484 639.3h1.5v3.6h-1.5zM491.2 637h1.5v5.8h-1.5zM493 642.4h1.5v2.1h-1.5zM494.8 644.2h1.5v3.6h-1.5zM496.6 647.6h1.5v2h-1.5zM498.4 648.8h1.5v3.7h-1.5zM502 648.3h1.5v5h-1.5zM503.8 652.9h1.5v7.1h-1.5zM505.6 660.1h1.5v3.4h-1.5zM511 659.6h1.5v6.8h-1.5zM514.6 666.6h1.5v5.2h-1.5zM516.4 671.7h1.5v1.5h-1.5zM518.2 673.4h1.5v1.7h-1.5zM520 674.7h1.5v7.5h-1.5zM529 643.3h1.5v4.8h-1.5zM532.6 641.7h1.5v10.4h-1.5zM534.4 652.1h1.5v0.9h-1.5zM538 650.7h1.5v8.4h-1.5zM539.8 659.5h1.5v0.9h-1.5zM547 652h1.5v1.8h-1.5zM552.3 646.4h1.5v4.9h-1.5zM555.9 649.9h1.5v0.9h-1.5zM559.5 646.2h1.5v4.1h-1.5zM563.1 647.6h1.5v4.1h-1.5zM564.9 651.4h1.5v7.9h-1.5zM566.7 659.6h1.5v5.9h-1.5zM575.7 644.1h1.5v4.8h-1.5zM579.3 642.6h1.5v1.2h-1.5zM586.5 637h1.5v1.4h-1.5zM590.1 630h1.5v6h-1.5zM593.7 627.2h1.5v1.4h-1.5zM597.3 620.5h1.5v0.9h-1.5zM600.9 613.3h1.5v0.9h-1.5zM602.7 613.2h1.5v11.2h-1.5zM606.3 623.4h1.5v8.5h-1.5zM611.7 618.5h1.5v7.2h-1.5zM620.7 585.7h1.5v5.2h-1.5zM622.5 591.2h1.5v1.9h-1.5zM626.1 584.2h1.5v5.7h-1.5zM627.9 589.6h1.5v4.6h-1.5zM631.5 592.6h1.5v3.2h-1.5zM635.1 593.5h1.5v6.2h-1.5zM640.5 599.5h1.5v3.7h-1.5zM642.3 603.4h1.5v4.5h-1.5zM644.1 607.7h1.5v5.5h-1.5zM653.1 584.3h1.5v8h-1.5zM654.8 591.5h1.5v1h-1.5zM656.6 592h1.5v5h-1.5zM658.4 596.9h1.5v1.1h-1.5zM660.2 598.2h1.5v3.5h-1.5zM672.8 531h1.5v15h-1.5zM676.4 530h1.5v12h-1.5zM678.2 540h1.5v12h-1.5zM683.6 533h1.5v5h-1.5zM687.2 525h1.5v10h-1.5zM696.2 476h1.5v9h-1.5zM698 480h1.5v7h-1.5zM701.6 472.5h1.5v15.5h-1.5zM710.6 440h1.5v15h-1.5zM712.4 450h1.5v12h-1.5zM716 458.5h1.5v16.5h-1.5zM717.8 475h1.5v15h-1.5zM719.6 488h1.5v17h-1.5zM721.4 505h1.5v7h-1.5zM730.4 478h1.5v12h-1.5zM732.2 490h1.5v10h-1.5zM734 498h1.5v5h-1.5zM735.8 503h1.5v9h-1.5zM737.6 510h1.5v5h-1.5zM744.8 445h1.5v23h-1.5zM746.6 445h1.5v13h-1.5zM757.4 402.2h1.5v6.7h-1.5zM780.7 233h1.5v57h-1.5zM782.5 245h1.5v40h-1.5zM784.3 285h1.5v45h-1.5zM786.1 330h1.5v30h-1.5zM787.9 360h1.5v15h-1.5zM791.5 343.3h1.5v6.4h-1.5zM798.7 308.9h1.5v27.8h-1.5zM805.9 270h1.5v25h-1.5zM807.7 268h1.5v32h-1.5zM816.7 221h1.5v57h-1.5zM818.5 270h1.5v20h-1.5zM820.3 285h1.5v20h-1.5zM822.1 272h1.5v58h-1.5zM825.7 325h1.5v15h-1.5zM829.3 325h1.5v10h-1.5zM832.9 148h1.5v15h-1.5zM836.5 150h1.5v11h-1.5zM838.3 155h1.5v53h-1.5zM840.1 205h1.5v27h-1.5zM841.9 232h1.5v18h-1.5zM843.7 250.2h1.5v8.8h-1.5zM845.5 258.1h1.5v40.1h-1.5zM847.3 298h1.5v0.9h-1.5zM850.9 291.4h1.5v31.6h-1.5zM852.7 323h1.5v8.6h-1.5zM854.5 330.7h1.5v18.6h-1.5zM856.3 350.2h1.5v23.8h-1.5zM861.7 356.3h1.5v12.7h-1.5zM865.2 356.8h1.5v14.2h-1.5zM867 371.4h1.5v5.1h-1.5zM872.4 333.9h1.5v19h-1.5zM876 340.8h1.5v2.8h-1.5zM877.8 344.3h1.5v6.8h-1.5zM879.6 350h1.5v16.3h-1.5zM881.4 365.8h1.5v13.2h-1.5zM883.2 377.7h1.5v6.8h-1.5zM885 383.9h1.5v23.2h-1.5zM886.8 408.1h1.5v16.9h-1.5zM888.6 424.3h1.5v9.8h-1.5zM894 430.3h1.5v10.7h-1.5zM897.6 437.1h1.5v15.9h-1.5zM910.2 422h1.5v1.6h-1.5zM913.8 421.7h1.5v11.9h-1.5zM922.8 348.8h1.5v3.8h-1.5zM931.8 291.9h1.5v5.3h-1.5zM933.6 298.6h1.5v2.6h-1.5zM935.4 303.9h1.5v1.4h-1.5zM937.2 305.4h1.5v22.3h-1.5zM939 327h1.5v10.1h-1.5zM940.8 336.9h1.5v15.1h-1.5zM942.6 351.1h1.5v37.2h-1.5zM946.2 375.3h1.5v17.2h-1.5zM948 393.8h1.5v15.4h-1.5zM955.2 371.5h1.5v8.4h-1.5zM957 380.8h1.5v3h-1.5zM958.8 384.9h1.5v17.1h-1.5zM960.6 402.4h1.5v9.1h-1.5zM962.4 411.4h1.5v24.8h-1.5zM971.3 375h1.5v6.4h-1.5zM978.5 200h1.5v32h-1.5zM982.1 166h1.5v37h-1.5zM987.5 170h1.5v30h-1.5zM989.3 195h1.5v18h-1.5zM991.1 212h1.5v10h-1.5zM992.9 175h1.5v75h-1.5zM994.7 250h1.5v12h-1.5zM998.3 245h1.5v13h-1.5zM1001.9 245h1.5v10h-1.5zM1003.7 200h1.5v35h-1.5zM1009.1 170h1.5v22h-1.5zM1010.9 185h1.5v43h-1.5zM1014.5 196h1.5v18h-1.5zM1018.1 175h1.5v35h-1.5zM1019.9 200h1.5v13h-1.5zM1021.7 213h1.5v22h-1.5zM1023.5 240h1.5v25h-1.5zM1025.3 268h1.5v14h-1.5zM1027.1 282.3h1.5v4.9h-1.5zM1028.9 287.4h1.5v4.2h-1.5zM1030.7 291.3h1.5v3.8h-1.5zM1032.5 296h1.5v22.9h-1.5zM1034.3 317.5h1.5v5.1h-1.5zM1036.1 321.5h1.5v6.7h-1.5zM1039.7 327.3h1.5v21.3h-1.5zM1050.5 287.9h1.5v32.7h-1.5zM1054.1 311.1h1.5v25.1h-1.5zM1057.7 322.9h1.5v3.2h-1.5zM1059.5 300h1.5v12h-1.5zM1064.9 232h1.5v23h-1.5zM1066.7 334h1.5v22h-1.5zM1068.5 356h1.5v16h-1.5zM1073.8 268h1.5v32h-1.5zM1075.6 298h1.5v14h-1.5zM1081 289.5h1.5v21.4h-1.5zM1082.8 313.3h1.5v15.7h-1.5zM1084.6 329.2h1.5v1.1h-1.5zM1086.4 331.3h1.5v9.3h-1.5zM1088.2 339.5h1.5v17.4h-1.5zM1095.4 343.6h1.5v3.7h-1.5zM1100.8 320.6h1.5v12.4h-1.5zM1104.4 321.4h1.5v0.9h-1.5zM1109.8 281.7h1.5v8.9h-1.5zM1111.6 290.4h1.5v13.7h-1.5zM1115.2 294.6h1.5v7.2h-1.5zM1118.8 276.8h1.5v19.9h-1.5zM1127.8 255.4h1.5v18.9h-1.5zM1129.6 273.2h1.5v19.7h-1.5zM1133.2 286.4h1.5v21.2h-1.5zM1136.8 296.3h1.5v21.9h-1.5zM1140.4 303.3h1.5v15.4h-1.5zM1145.8 304.9h1.5v0.9h-1.5zM1147.6 305.9h1.5v7.6h-1.5zM1149.4 314h1.5v15.5h-1.5zM1151.2 328.6h1.5v8.6h-1.5zM1153 337.3h1.5v1.8h-1.5zM1154.8 336.9h1.5v12h-1.5zM1158.4 338h1.5v10.1h-1.5zM1162 340.3h1.5v2.1h-1.5zM1163.8 342.6h1.5v10.7h-1.5zM1167.4 350.2h1.5v8.5h-1.5zM1171 353.8h1.5v12.6h-1.5zM1181.7 269.3h1.5v0.9h-1.5zM1183.5 266.5h1.5v36.9h-1.5zM1187.1 277.4h1.5v12.8h-1.5zM1190.7 285h1.5v31.7h-1.5zM1196.1 309.1h1.5v14.8h-1.5zM1201.5 313.3h1.5v20h-1.5zM1206.9 325.1h1.5v18.6h-1.5zM1208.7 343.1h1.5v3h-1.5zM1210.5 346h1.5v2.6h-1.5zM1212.3 349.5h1.5v8.3h-1.5zM1215.9 356.2h1.5v3.7h-1.5zM1219.5 354.5h1.5v21.8h-1.5zM1223.1 370.8h1.5v2h-1.5zM1224.9 371.7h1.5v3.4h-1.5zM1226.7 374.2h1.5v9.9h-1.5zM1228.5 385.6h1.5v0.9h-1.5zM1230.3 387.4h1.5v7.8h-1.5zM1232.1 395.7h1.5v21.7h-1.5zM1233.9 416.3h1.5v6.4h-1.5zM1237.5 421.4h1.5v5.7h-1.5zM1239.3 427h1.5v7h-1.5zM1244.7 404.3h1.5v0.9h-1.5zM1250.1 391.9h1.5v5.7h-1.5zM1255.5 380.8h1.5v3.7h-1.5zM1257.3 386.1h1.5v4.7h-1.5zM1260.9 371.2h1.5v3.5h-1.5zM1269.9 344.2h1.5v17.8h-1.5zM1271.7 362h1.5v8.3h-1.5zM1275.3 372.4h1.5v2.8h-1.5zM1278.8 356.3h1.5v25.5h-1.5zM1280.6 379.5h1.5v8.6h-1.5zM1284.2 482h1.5v10h-1.5zM1286 492h1.5v24h-1.5zM1289.6 522h1.5v18h-1.5zM1291.4 527h1.5v16h-1.5zM1295 537h1.5v10h-1.5zM1296.8 540h1.5v8h-1.5zM1298.6 542h1.5v9h-1.5zM1302.2 540h1.5v8h-1.5zM1309.4 510h1.5v12h-1.5zM1311.2 515h1.5v20h-1.5zM1313 520h1.5v10h-1.5zM1316.6 526h1.5v8h-1.5zM1318.4 537h1.5v13h-1.5zM1320.2 549h1.5v9h-1.5zM1322 558h1.5v7h-1.5zM1323.8 565h1.5v5h-1.5zM1325.6 573h1.5v9h-1.5zM1327.4 582h1.5v6h-1.5zM1331 582h1.5v4h-1.5zM1334.6 580h1.5v8h-1.5zM1347.2 505h1.5v5h-1.5zM1349 510h1.5v8h-1.5zM1352.6 515h1.5v13h-1.5zM1358 500h1.5v6h-1.5zM1359.8 505.6h1.5v11.6h-1.5z" fill="#f23645"/>
<path d="M8 671C15.3 670.7 22.7 670.2 30 670.2C120 670.2 210 670.2 300 670.2C305.3 670.2 310.7 670.2 316 670C317.7 670 319.3 666.7 321 665C323 663 325 660.8 327 659C329.7 656.6 332.3 653.9 335 652.5C338 650.9 341 650.6 344 649C345.7 648.1 347.3 646.6 349 645C351.3 642.8 353.7 639.5 356 637C359.3 633.4 362.7 630 366 627C369 624.3 372 621.9 375 619.5C377.7 617.4 380.3 614.6 383 613.5C386 612.3 389 611.3 392 611C395.3 610.7 398.7 610.5 402 610.5C404.3 610.5 406.7 611 409 611.5C412.7 612.3 416.3 615.8 420 618C424 620.3 428 622.6 432 625C436.3 627.6 440.7 631.1 445 633C449 634.7 453 637 457 637C461.3 637 465.7 637 470 637C474 637 478 637 482 637C487.3 637 492.7 638.5 498 640C502 641.1 506 644 510 646C513.3 647.7 516.7 650.3 520 651C525.7 652.1 531.3 653 537 653C543 653 549 653 555 653C560 653 565 652.8 570 652.5C573.3 652.3 576.7 650.9 580 650C583.3 649.1 586.7 648.3 590 647C594.3 645.4 598.7 642.2 603 640C606.3 638.3 609.7 637 613 635C618.7 631.6 624.3 625 630 622C635.7 619 641.3 616.9 647 615C650.3 613.9 653.7 613.3 657 612C659.7 611 662.3 609.9 665 608C667.3 606.4 669.7 602.7 672 600C674 597.7 676 595.5 678 593C682 588.1 686 583 690 577C693.3 572 696.7 566 700 560C702.7 555.2 705.3 549.5 708 545C711.3 539.4 714.7 533.2 718 530C723 525.3 728 521.9 733 520C735.3 519.1 737.7 519 740 518C742.3 517 744.7 513.7 747 511C749 508.7 751 506.3 753 503C755.3 499.1 757.7 492.1 760 487C762.7 481.1 765.3 477.8 768 470C769.3 466.1 770.7 458.5 772 453C773.3 447.5 774.7 441.9 776 437C777.7 430.9 779.3 424.1 781 420C783.3 414.3 785.7 410.5 788 407C790.3 403.5 792.7 401.1 795 398C797.7 394.5 800.3 391.5 803 387C806.3 381.4 809.7 371.5 813 365C815.3 360.4 817.7 352.9 820 352.5C821.7 352.2 823.3 352.3 825 352C826.7 351.7 828.3 348.5 830 345C831.7 341.5 833.3 327.9 835 323C836.7 318.1 838.3 314 840 312C841.7 310 843.3 308 845 308C847.3 308 849.7 308.4 852 309C854.7 309.7 857.3 317.5 860 320C864 323.7 868 325.3 872 328C874 329.3 876 330.3 878 332C880.3 334 882.7 336.9 885 340C889 345.3 893 352.9 897 360C899.7 364.7 902.3 371.4 905 375C909.3 380.8 913.7 388 918 388C921.3 388 924.7 384.5 928 382C932 379 936 370 940 370C943.3 370 946.7 373.2 950 375C955.7 378 961.3 385 967 385C969.7 385 972.3 383.9 975 382C977.3 380.4 979.7 360.8 982 352C984.7 341.9 987.3 330.8 990 325C994.3 315.6 998.7 313.3 1003 305C1005.3 300.5 1007.7 293 1010 288C1012.7 282.3 1015.3 275 1018 273C1020 271.5 1022 270 1024 270C1027.7 270 1031.3 275.2 1035 278C1039 281.1 1043 284.7 1047 288C1050.7 291 1054.3 297 1058 297C1060 297 1062 292.5 1064 292.5C1067 292.5 1070 297.1 1073 297.5C1075.3 297.8 1077.7 297.7 1080 298C1082.7 298.3 1085.3 303.1 1088 305C1093 308.6 1098 314 1103 314C1107 314 1111 313 1115 312C1117.7 311.3 1120.3 309.7 1123 308C1125.3 306.5 1127.7 302 1130 302C1135 302 1140 302 1145 302C1147.7 302 1150.3 303.7 1153 305C1157.7 307.4 1162.3 313.4 1167 317C1170.3 319.6 1173.7 324 1177 324C1179.7 324 1182.3 318.9 1185 318C1188.3 316.9 1191.7 316 1195 316C1197.7 316 1200.3 317.1 1203 318C1207 319.4 1211 322.1 1215 325C1219 327.9 1223 332.5 1227 337C1230.3 340.8 1233.7 345.3 1237 350C1239.7 353.7 1242.3 359.7 1245 362C1248.3 364.9 1251.7 368 1255 368C1259 368 1263 367 1267 367C1271.3 367 1275.7 367.1 1280 367.5C1282.3 367.7 1284.7 377.1 1287 383C1289.7 389.8 1292.3 398.7 1295 407C1296.7 412.2 1298.3 418.2 1300 423C1302.5 430.1 1305 437 1307.5 442C1311.2 449.5 1315 453 1318.8 460C1321.7 465.4 1324.6 472.9 1327.5 479C1330.3 484.9 1333.2 492 1336 496C1338.6 499.6 1341.2 503.2 1343.8 504.5C1345.8 505.5 1347.9 506 1350 506.5C1353.3 507.3 1356.7 507.8 1360 508.5" stroke="#2f6bec" stroke-width="1" fill="none"/>
<path d="M8 671.2C15.3 671.1 22.7 670.9 30 670.9C120 670.9 210 670.9 300 670.9C305.3 670.9 310.7 669.7 316 669C320.7 668.4 325.3 667.7 330 667C336 666.1 342 665.4 348 664C355.3 662.3 362.7 657.8 370 655C376.7 652.5 383.3 649.5 390 648C398.3 646.1 406.7 644 415 644C423.3 644 431.7 644 440 644C451 644 462 644.6 473 645C482 645.3 491 645.5 500 646C506.7 646.3 513.3 647.1 520 647.5C528.3 647.9 536.7 648.3 545 648.5C553.3 648.7 561.7 649 570 649C580 649 590 648.1 600 647C606.7 646.3 613.3 643.5 620 642C626.7 640.5 633.3 639.4 640 638C648.3 636.3 656.7 635.1 665 632.5C670 630.9 675 627.7 680 625C685.7 621.9 691.3 618.8 697 615C704.7 609.9 712.3 602.1 720 597C725.7 593.2 731.3 590.7 737 587C744.7 582 752.3 577 760 570C765 565.5 770 559.1 775 553C779 548.1 783 541.9 787 537C793 529.7 799 523.8 805 517C812.7 508.3 820.3 500 828 490C832.7 483.9 837.3 475.4 842 470C845.3 466.1 848.7 462.6 852 460C856.3 456.7 860.7 454.1 865 452C871 449.1 877 445.8 883 445C891 443.9 899 444.1 907 443C912.3 442.3 917.7 440 923 438C928.7 435.9 934.3 431.1 940 430C946.7 428.7 953.3 428.5 960 427.5C964.3 426.8 968.7 426.4 973 425C977 423.7 981 416 985 412C990 407 995 403.2 1000 398C1004.3 393.5 1008.7 387.1 1013 383C1017.7 378.6 1022.3 373.9 1027 372C1031.3 370.3 1035.7 369.7 1040 368.5C1044.3 367.3 1048.7 366.3 1053 365C1057.7 363.6 1062.3 361.3 1067 360C1071.3 358.8 1075.7 357.6 1080 357C1086.7 356 1093.3 356 1100 355C1107.7 353.9 1115.3 350.2 1123 348C1132 345.5 1141 341 1150 341C1155 341 1160 341 1165 341C1169 341 1173 342 1177 342C1181.3 342 1185.7 338.6 1190 338C1194 337.5 1198 337 1202 337C1207 337 1212 337.4 1217 338C1221.3 338.5 1225.7 340.5 1230 342C1234 343.4 1238 346 1242 347C1248 348.5 1254 349.2 1260 350C1266.7 350.8 1273.3 350.7 1280 352C1284.3 352.8 1288.7 359.3 1293 363C1298.7 367.9 1304.3 373 1310 378C1315.7 383 1321.3 387.5 1327 393C1331.3 397.2 1335.7 403.6 1340 407C1346.7 412.2 1353.3 415 1360 419" stroke="#e5325f" stroke-width="1" fill="none"/>
<!-- fib -->
<g stroke="#3d72e0" stroke-width="1.1">
<line x1="301" y1="94.5" x2="831.7" y2="94.5"/>
<line x1="301" y1="233" x2="831.7" y2="233"/>
<line x1="301" y1="318.6" x2="831.7" y2="318.6"/>
<line x1="301" y1="387.7" x2="831.7" y2="387.7"/>
<line x1="301" y1="457.1" x2="831.7" y2="457.1"/>
<line x1="301" y1="555.6" x2="831.7" y2="555.6"/>
<line x1="301" y1="681.5" x2="831.7" y2="681.5"/>
<line x1="301.6" y1="681.3" x2="831.5" y2="94.7" stroke-dasharray="5 3.5"/>
</g>
<g font-size="9.6" letter-spacing="0.55" fill="#4a78e8" text-anchor="end">
<text x="295" y="88.5">0 (64.09)</text>
<text x="295" y="227">0.236 (51.07)</text>
<text x="295" y="312.6">0.382 (43.02)</text>
<text x="295" y="381.7">0.5 (36.52)</text>
<text x="295" y="451.1">0.618 (30.01)</text>
<text x="295" y="549.6">0.786 (20.74)</text>
<text x="295" y="675.5">1 (8.94)</text>
</g>
<!-- horizontal lines -->
<line x1="880" y1="461.2" x2="1379" y2="461.2" stroke="#131722" stroke-width="1.2"/>
<line x1="1292" y1="592.5" x2="1379" y2="592.5" stroke="#131722" stroke-width="1.2"/>
<!-- price axis -->
<g class="tk" font-size="13" letter-spacing="0.6" fill="#131722">
<text x="1388" y="57.8">68.00</text>
<text x="1388" y="100.4">64.00</text>
<text x="1388" y="142.9">60.00</text>
<text x="1388" y="185.5">56.00</text>
<text x="1388" y="228.0">52.00</text>
<text x="1388" y="270.6">48.00</text>
<text x="1388" y="313.1">44.00</text>
<text x="1388" y="355.7">40.00</text>
<text x="1388" y="398.2">36.00</text>
<text x="1388" y="440.8">32.00</text>
<text x="1388" y="483.3">28.00</text>
<text x="1388" y="525.9">24.00</text>
<text x="1388" y="568.4">20.00</text>
<text x="1388" y="611.0">16.00</text>
<text x="1388" y="653.5">12.00</text>
<text x="1388" y="696.1">8.00</text>
<text x="1388" y="738.6">4.00</text>
</g>
<rect x="1382.5" y="24.5" width="45.5" height="21" rx="3" fill="#fff" stroke="#eef0f3"/>
<text x="1403" y="39.5" font-size="12.5" fill="#131722" text-anchor="middle">USD</text>
<rect x="1379.5" y="452.5" width="48" height="17.5" rx="2" fill="#000"/>
<text x="1388" y="466.2" font-size="13" letter-spacing="0.6" fill="#fff">29.62</text>
<rect x="1379.5" y="583.5" width="48" height="18" rx="2" fill="#000"/>
<text x="1388" y="597.3" font-size="13" letter-spacing="0.6" fill="#fff">17.28</text>
<!-- time axis -->
<g font-size="13" letter-spacing="0.9" fill="#131722" text-anchor="middle">
<text x="14.8" y="760">Oct</text>
<text x="125.8" y="760" font-weight="bold" letter-spacing="1.3">2022</text>
<text x="234.8" y="760">Apr</text>
<text x="346.8" y="760">Jul</text>
<text x="461.8" y="760">Oct</text>
<text x="574.8" y="760" font-weight="bold" letter-spacing="1.3">2023</text>
<text x="686.8" y="760">Apr</text>
<text x="798.8" y="760">Jul</text>
<text x="911.8" y="760">Oct</text>
<text x="1024.8" y="760" font-weight="bold" letter-spacing="1.3">2024</text>
<text x="1134.8" y="760">Apr</text>
<text x="1247.8" y="760">Jul</text>
<text x="1363.8" y="760">Oct</text>
</g>
<rect x="0" y="740" width="7.5" height="30" fill="#fff"/>
<rect x="7.5" y="21.5" width="1424" height="749" fill="none" stroke="#eeeff1" stroke-width="1"/>
<!-- earnings icons -->
<g fill="none" stroke-width="1.1" stroke-linejoin="round">
<rect x="146.6" y="724.6" width="13.6" height="13.8" rx="1.8" stroke="#444"/>
<g stroke="#1a8a70">
<path d="M335.5 728 L342.5 723.6 L349.5 728 V737.6 Q349.5 738.6 348.5 738.6 H336.5 Q335.5 738.6 335.5 737.6 Z"/>
<path d="M375 728 L382 723.6 L389 728 V737.6 Q389 738.6 388 738.6 H376 Q375 738.6 375 737.6 Z"/>
<path d="M516.5 728 L523.5 723.6 L530.5 728 V737.6 Q530.5 738.6 529.5 738.6 H517.5 Q516.5 738.6 516.5 737.6 Z"/>
<path d="M712.5 728 L719.5 723.6 L726.5 728 V737.6 Q726.5 738.6 725.5 738.6 H713.5 Q712.5 738.6 712.5 737.6 Z"/>
<path d="M824.5 728 L831.5 723.6 L838.5 728 V737.6 Q838.5 738.6 837.5 738.6 H825.5 Q824.5 738.6 824.5 737.6 Z"/>
<path d="M967 728 L974 723.6 L981 728 V737.6 Q981 738.6 980 738.6 H968 Q967 738.6 967 737.6 Z"/>
<path d="M1058 728 L1065 723.6 L1072 728 V737.6 Q1072 738.6 1071 738.6 H1059 Q1058 738.6 1058 737.6 Z"/>
<path d="M1171 728 L1178 723.6 L1185 728 V737.6 Q1185 738.6 1184 738.6 H1172 Q1171 738.6 1171 737.6 Z"/>
</g>
<g stroke="#e0394f">
<path d="M599.8 725.6 Q599.8 724.6 600.8 724.6 H612.8 Q613.8 724.6 613.8 725.6 V735.8 L606.8 740 L599.8 735.8 Z"/>
<path d="M1274 725.6 Q1274 724.6 1275 724.6 H1287 Q1288 724.6 1288 725.6 V735.8 L1281 740 L1274 735.8 Z"/>
</g>
</g>
<g font-size="8.5" font-weight="bold" text-anchor="middle">
<text x="153.4" y="735" fill="#444">E</text>
<g fill="#1a8a70">
<text x="342.5" y="735">E</text><text x="382" y="735">E</text><text x="523.5" y="735">E</text><text x="719.5" y="735">E</text><text x="831.5" y="735">E</text><text x="974" y="735">E</text><text x="1065" y="735">E</text><text x="1178" y="735">E</text>
</g>
<g fill="#e0394f"><text x="606.8" y="735">E</text><text x="1281" y="735">E</text></g>
</g>
<!-- footer logo -->
<g fill="#131722">
<path d="M8 780.5 H15.2 V788 H11.8 V783.8 H8 Z"/>
<circle cx="17.6" cy="782.2" r="1.7"/>
<path d="M20.2 780.5 H23.8 L19.6 788 H16 Z"/>
</g>
<text x="27" y="788.8" font-size="11" fill="#131722">TradingView</text>
</svg>
</body></html>
